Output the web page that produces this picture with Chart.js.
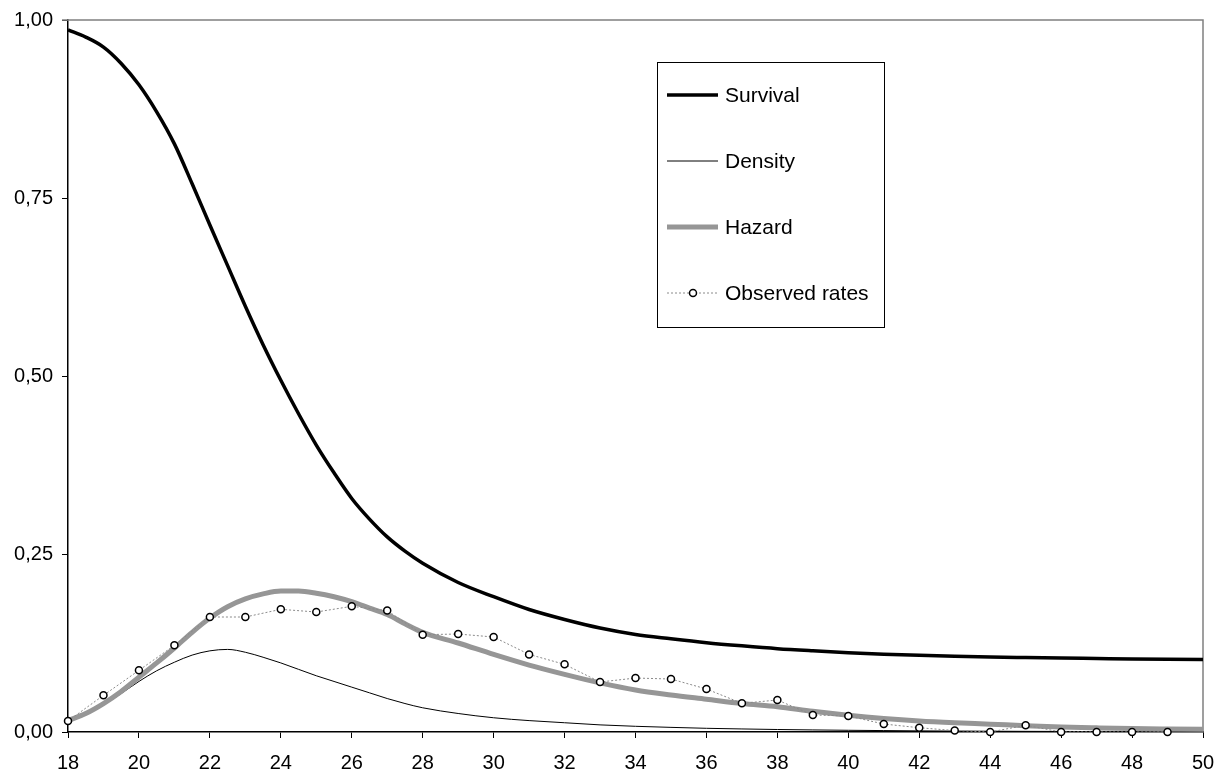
<!DOCTYPE html>
<html>
<head>
<meta charset="utf-8">
<script src="https://cdn.jsdelivr.net/npm/chart.js@4.4.0/dist/chart.umd.min.js"></script>
<style>
html, body { margin: 0; padding: 0; background: #fff; }
#wrap { width: 1223px; height: 777px; }
</style>
</head>
<body>
<div id="wrap"><canvas id="chart" width="1223" height="777"></canvas></div>
<script>
// Fitted curves (half-year steps where they bend most)
const curveAges = [18, 18.5, 19, 19.5, 20, 20.5, 21, 21.5, 22, 22.5, 23, 23.5, 24, 24.5, 25, 25.5,
    26, 26.5, 27, 27.5, 28, 29, 30, 31, 32, 33, 34, 35, 36, 37, 38, 39, 40, 41, 42, 43, 44, 45,
    46, 47, 48, 49, 50];
const survival = [0.986, 0.976, 0.962, 0.939, 0.909, 0.871, 0.826, 0.770, 0.712, 0.655, 0.598, 0.544,
    0.494, 0.447, 0.403, 0.364, 0.328, 0.299, 0.274, 0.254, 0.237, 0.210, 0.190, 0.172, 0.158,
    0.146, 0.137, 0.131, 0.1255, 0.121, 0.117, 0.114, 0.1114, 0.1093, 0.1077, 0.1064, 0.1053,
    0.1046, 0.104, 0.1033, 0.1026, 0.1022, 0.102];
const density = [0.016, 0.025, 0.038, 0.054, 0.071, 0.086, 0.098, 0.108, 0.114, 0.116, 0.112, 0.105,
    0.097, 0.088, 0.079, 0.071, 0.063, 0.055, 0.047, 0.040, 0.034, 0.026, 0.020, 0.016, 0.013,
    0.010, 0.008, 0.0065, 0.0052, 0.0043, 0.0035, 0.0029, 0.0024, 0.002, 0.0016, 0.0013, 0.0011,
    0.0009, 0.0008, 0.0006, 0.0005, 0.0005, 0.0004];
const hazard = [0.016, 0.026, 0.040, 0.057, 0.077, 0.097, 0.118, 0.140, 0.160, 0.176, 0.187, 0.194,
    0.198, 0.198, 0.195, 0.190, 0.183, 0.174, 0.165, 0.152, 0.140, 0.125, 0.109, 0.094, 0.081,
    0.069, 0.059, 0.052, 0.046, 0.040, 0.0355, 0.029, 0.0235, 0.019, 0.0155, 0.013, 0.011,
    0.0088, 0.007, 0.0058, 0.0048, 0.0042, 0.0037];

// Observed yearly rates
const observedAges = [18, 19, 20, 21, 22, 23, 24, 25, 26, 27, 28, 29, 30, 31, 32, 33, 34, 35, 36, 37,
    38, 39, 40, 41, 42, 43, 44, 45, 46, 47, 48, 49];
const observedRates = [0.0155, 0.0515, 0.0866, 0.1217, 0.1615, 0.1615, 0.1723, 0.1685, 0.1765, 0.1705,
    0.1367, 0.1376, 0.1334, 0.109, 0.095, 0.0702, 0.0758, 0.0744, 0.0604, 0.0403, 0.0449, 0.0239,
    0.0225, 0.0112, 0.006, 0.002, 0, 0.0094, 0, 0, 0, 0];

const xTickValues = [18, 20, 22, 24, 26, 28, 30, 32, 34, 36, 38, 40, 42, 44, 46, 48, 50];
const yTickValues = [0, 0.25, 0.5, 0.75, 1];
const seriesNames = ['Survival', 'Density', 'Hazard', 'Observed rates'];

const FONT = "'Liberation Sans', Arial, sans-serif";

function toPoints(xs, ys) {
    return xs.map((x, i) => ({ x: x, y: ys[i] }));
}

// gray frame on top and right of the plot area
const frame = {
    id: 'frame',
    beforeDatasetsDraw(chart) {
        const a = chart.chartArea;
        const ctx = chart.ctx;
        ctx.save();
        ctx.strokeStyle = '#808080';
        ctx.lineWidth = 1.5;
        ctx.beginPath();
        ctx.moveTo(a.left - 6, a.top);
        ctx.lineTo(a.right, a.top);
        ctx.lineTo(a.right, a.bottom);
        ctx.stroke();
        ctx.restore();
    }
};

// boxed legend inside the plot, like the original
const legendBox = {
    id: 'legendBox',
    afterDraw(chart) {
        const ctx = chart.ctx;
        const box = { left: 657, top: 62, width: 227, height: 265 };
        ctx.save();
        ctx.fillStyle = '#fff';
        ctx.fillRect(box.left, box.top, box.width, box.height);
        ctx.strokeStyle = '#000';
        ctx.lineWidth = 1;
        ctx.strokeRect(box.left + 0.5, box.top + 0.5, box.width, box.height);
        ctx.font = '21px ' + FONT;
        ctx.textBaseline = 'middle';
        ctx.textAlign = 'left';
        chart.data.datasets.forEach((ds, i) => {
            const y = 95 + i * 66;
            ctx.save();
            ctx.strokeStyle = ds.borderColor;
            ctx.lineWidth = ds.borderWidth;
            ctx.setLineDash(ds.borderDash || []);
            ctx.beginPath();
            ctx.moveTo(667, y);
            ctx.lineTo(718, y);
            ctx.stroke();
            ctx.restore();
            if (ds.pointRadius > 0) {
                ctx.beginPath();
                ctx.arc(693, y, ds.pointRadius, 0, Math.PI * 2);
                ctx.fillStyle = ds.pointBackgroundColor;
                ctx.fill();
                ctx.lineWidth = ds.pointBorderWidth;
                ctx.strokeStyle = ds.pointBorderColor;
                ctx.stroke();
            }
            ctx.fillStyle = '#000';
            ctx.fillText(ds.label, 725, y + 1);
        });
        ctx.restore();
    }
};

new Chart(document.getElementById('chart'), {
    type: 'line',
    data: {
        datasets: [{
            label: seriesNames[0],
            data: toPoints(curveAges, survival),
            borderColor: '#000',
            borderWidth: 3.5,
            pointRadius: 0,
            cubicInterpolationMode: 'monotone',
            order: 3
        }, {
            label: seriesNames[1],
            data: toPoints(curveAges, density),
            borderColor: '#000',
            borderWidth: 1,
            pointRadius: 0,
            cubicInterpolationMode: 'monotone',
            order: 2
        }, {
            label: seriesNames[2],
            data: toPoints(curveAges, hazard),
            borderColor: 'rgb(150,150,150)',
            borderWidth: 5,
            pointRadius: 0,
            cubicInterpolationMode: 'monotone',
            order: 1
        }, {
            label: seriesNames[3],
            data: toPoints(observedAges, observedRates),
            borderColor: '#8a8a8a',
            borderWidth: 1,
            borderDash: [2, 2],
            pointRadius: 3.5,
            pointBackgroundColor: '#fff',
            pointBorderColor: '#000',
            pointBorderWidth: 1.5,
            tension: 0,
            clip: false,
            order: 0
        }]
    },
    options: {
        responsive: false,
        animation: false,
        devicePixelRatio: 1,
        layout: { padding: { top: 20, right: 20, left: 0, bottom: 0 } },
        plugins: {
            legend: { display: false },
            tooltip: { enabled: false }
        },
        scales: {
            x: {
                type: 'linear',
                min: 18,
                max: 50,
                afterBuildTicks: scale => { scale.ticks = xTickValues.map(v => ({ value: v })); },
                afterFit: scale => {
                    scale.height = 45;
                    scale.paddingLeft = 0;
                    scale.paddingRight = 0;
                },
                ticks: {
                    font: { size: 20, family: FONT },
                    color: '#000',
                    padding: 13,
                    maxRotation: 0
                },
                grid: {
                    drawOnChartArea: false,
                    tickLength: 6,
                    color: '#000',
                    lineWidth: 1
                },
                border: { color: '#000', width: 1.5 }
            },
            y: {
                min: 0,
                max: 1,
                afterBuildTicks: scale => { scale.ticks = yTickValues.map(v => ({ value: v })); },
                afterFit: scale => {
                    scale.width = 68;
                    scale.paddingTop = 0;
                    scale.paddingBottom = 0;
                },
                ticks: {
                    font: { size: 20, family: FONT },
                    color: '#000',
                    padding: 9,
                    callback: v => v.toFixed(2).replace('.', ',')
                },
                grid: {
                    drawOnChartArea: false,
                    tickLength: 6,
                    color: '#000',
                    lineWidth: 1
                },
                border: { color: '#000', width: 1.5 }
            }
        }
    },
    plugins: [frame, legendBox]
});
</script>
</body>
</html>
